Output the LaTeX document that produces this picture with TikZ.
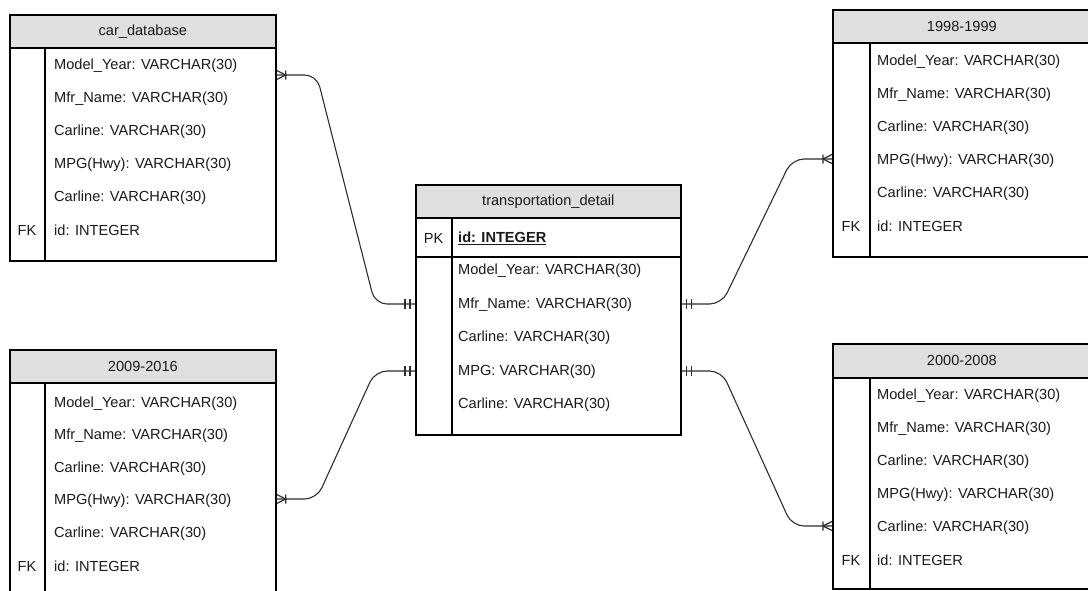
\documentclass[tikz,border=0pt]{standalone}
\usepackage{fontspec}
\setmainfont{Liberation Sans}
\usetikzlibrary{calc}
\definecolor{hdrgray}{HTML}{DFDFDF}
\definecolor{ink}{HTML}{1A1A1A}
\definecolor{linec}{HTML}{2E2E2E}
\newcommand\erfs{\fontsize{14.6}{17}\selectfont}
\begin{document}
\begin{tikzpicture}[x=1pt,y=-1pt,
  tbl/.style={draw=black, line width=1.7pt},
  hdr/.style={tbl, fill=hdrgray, inner sep=0pt, font=\erfs, text=ink, anchor=north west},
  body/.style={tbl, fill=white, inner sep=0pt, anchor=north west},
  rowtxt/.style={anchor=west, inner sep=0pt, font=\erfs, text=ink, yshift=-1.5pt},
  keytxt/.style={anchor=center, inner sep=0pt, font=\erfs, text=ink, yshift=-1.5pt},
  conn/.style={draw=linec, line width=1.1pt, rounded corners=12pt},
  ermk/.style={draw=linec, line width=1.2pt},
  manyfoot/.pic={\draw[ermk] (0,-4.5) -- (9,0) -- (0,4.5) (9,-4.5) -- (9,4.5);},
  onebar/.pic={\draw[ermk] (5,-5) -- (5,5) (10,-5) -- (10,5);}
]
\clip (0,0) rectangle (1088,590);

% ---------- car_database ----------
\node[body, minimum width=266pt, minimum height=213pt] (cd-b) at (9,47) {};
\node[hdr, minimum width=266pt, minimum height=33pt] (cd-h) at (9,14) {car\_database};
\draw[tbl] ($(cd-b.north west)+(36,0)$) -- ($(cd-b.south west)+(36,0)$);
\node[rowtxt] (cd-r1) at (54,64) {Model\_Year: VARCHAR(30)};
\node[rowtxt] (cd-r2) at (54,97) {Mfr\_Name: VARCHAR(30)};
\node[rowtxt] (cd-r3) at (54,130) {Carline: VARCHAR(30)};
\node[rowtxt] (cd-r4) at (54,163) {MPG(Hwy): VARCHAR(30)};
\node[rowtxt] (cd-r5) at (54,196) {Carline: VARCHAR(30)};
\node[rowtxt] (cd-r6) at (54,229) {id: INTEGER};
\node[keytxt] (cd-k) at (27,229) {FK};

% ---------- 2009-2016 ----------
\node[body, minimum width=266pt, minimum height=213pt] (b9-b) at (9,382) {};
\node[hdr, minimum width=266pt, minimum height=33pt] (b9-h) at (9,349) {2009-2016};
\draw[tbl] ($(b9-b.north west)+(36,0)$) -- ($(b9-b.south west)+(36,0)$);
\node[rowtxt] (b9-r1) at (54,402) {Model\_Year: VARCHAR(30)};
\node[rowtxt] (b9-r2) at (54,434.5) {Mfr\_Name: VARCHAR(30)};
\node[rowtxt] (b9-r3) at (54,467) {Carline: VARCHAR(30)};
\node[rowtxt] (b9-r4) at (54,499.5) {MPG(Hwy): VARCHAR(30)};
\node[rowtxt] (b9-r5) at (54,532) {Carline: VARCHAR(30)};
\node[rowtxt] (b9-r6) at (54,564.5) {id: INTEGER};
\node[keytxt] (b9-k) at (27,564.5) {FK};

% ---------- 1998-1999 ----------
\node[body, minimum width=258pt, minimum height=214pt] (r1-b) at (832,42) {};
\node[hdr, minimum width=258pt, minimum height=33pt] (r1-h) at (832,9) {1998-1999};
\draw[tbl] ($(r1-b.north west)+(38,0)$) -- ($(r1-b.south west)+(38,0)$);
\node[rowtxt] (r1-r1) at (877,60) {Model\_Year: VARCHAR(30)};
\node[rowtxt] (r1-r2) at (877,93) {Mfr\_Name: VARCHAR(30)};
\node[rowtxt] (r1-r3) at (877,126) {Carline: VARCHAR(30)};
\node[rowtxt] (r1-r4) at (877,159) {MPG(Hwy): VARCHAR(30)};
\node[rowtxt] (r1-r5) at (877,192) {Carline: VARCHAR(30)};
\node[rowtxt] (r1-r6) at (877,225) {id: INTEGER};
\node[keytxt] (r1-k) at (851,225) {FK};

% ---------- 2000-2008 ----------
\node[body, minimum width=258pt, minimum height=211pt] (r2-b) at (832,377) {};
\node[hdr, minimum width=258pt, minimum height=34pt] (r2-h) at (832,343) {2000-2008};
\draw[tbl] ($(r2-b.north west)+(38,0)$) -- ($(r2-b.south west)+(38,0)$);
\node[rowtxt] (r2-r1) at (877,394) {Model\_Year: VARCHAR(30)};
\node[rowtxt] (r2-r2) at (877,427) {Mfr\_Name: VARCHAR(30)};
\node[rowtxt] (r2-r3) at (877,460) {Carline: VARCHAR(30)};
\node[rowtxt] (r2-r4) at (877,493) {MPG(Hwy): VARCHAR(30)};
\node[rowtxt] (r2-r5) at (877,526) {Carline: VARCHAR(30)};
\node[rowtxt] (r2-r6) at (877,559) {id: INTEGER};
\node[keytxt] (r2-k) at (851,559) {FK};

% ---------- transportation_detail ----------
\node[body, minimum width=265pt, minimum height=39pt] (td-p) at (415,217) {};
\node[body, minimum width=265pt, minimum height=178pt] (td-b) at (415,256) {};
\node[hdr, minimum width=265pt, minimum height=33pt] (td-h) at (415,184) {transportation\_detail};
\draw[tbl] ($(td-p.north west)+(37,0)$) -- ($(td-b.south west)+(37,0)$);
\node[keytxt] (td-k) at (433.5,236.5) {PK};
\node[rowtxt] (td-id) at (458,236.5) {\underline{\textbf{id: INTEGER}}};
\node[rowtxt] (td-r1) at (458,269.5) {Model\_Year: VARCHAR(30)};
\node[rowtxt] (td-r2) at (458,303) {Mfr\_Name: VARCHAR(30)};
\node[rowtxt] (td-r3) at (458,336.5) {Carline: VARCHAR(30)};
\node[rowtxt] (td-r4) at (458,370) {MPG: VARCHAR(30)};
\node[rowtxt] (td-r5) at (458,403.5) {Carline: VARCHAR(30)};

% ---------- attachment points ----------
\coordinate (cdP) at (cd-b.east |- 0,75);
\coordinate (b9P) at (b9-b.east |- 0,499);
\coordinate (r1P) at (r1-b.west |- 0,159);
\coordinate (r2P) at (r2-b.west |- 0,526);
\coordinate (tdL1) at (td-b.west |- 0,304);
\coordinate (tdL2) at (td-b.west |- 0,371);
\coordinate (tdR1) at (td-b.east |- 0,304);
\coordinate (tdR2) at (td-b.east |- 0,371);

% ---------- connectors ----------
\draw[conn] (cdP) -- ++(40,0) -- ($(tdL1)+(-40,0)$) -- (tdL1);
\draw[conn] (b9P) -- ++(40,0) -- ($(tdL2)+(-40,0)$) -- (tdL2);
\draw[conn] (tdR1) -- ++(40,0) -- ($(r1P)+(-40,0)$) -- (r1P);
\draw[conn] (tdR2) -- ++(40,0) -- ($(r2P)+(-40,0)$) -- (r2P);

% ---------- markers ----------
\pic at (cdP) {manyfoot};
\pic at (b9P) {manyfoot};
\pic[xscale=-1] at (r1P) {manyfoot};
\pic[xscale=-1] at (r2P) {manyfoot};
\pic[xscale=-1] at (tdL1) {onebar};
\pic[xscale=-1] at (tdL2) {onebar};
\pic at (tdR1) {onebar};
\pic at (tdR2) {onebar};
\end{tikzpicture}
\end{document}
